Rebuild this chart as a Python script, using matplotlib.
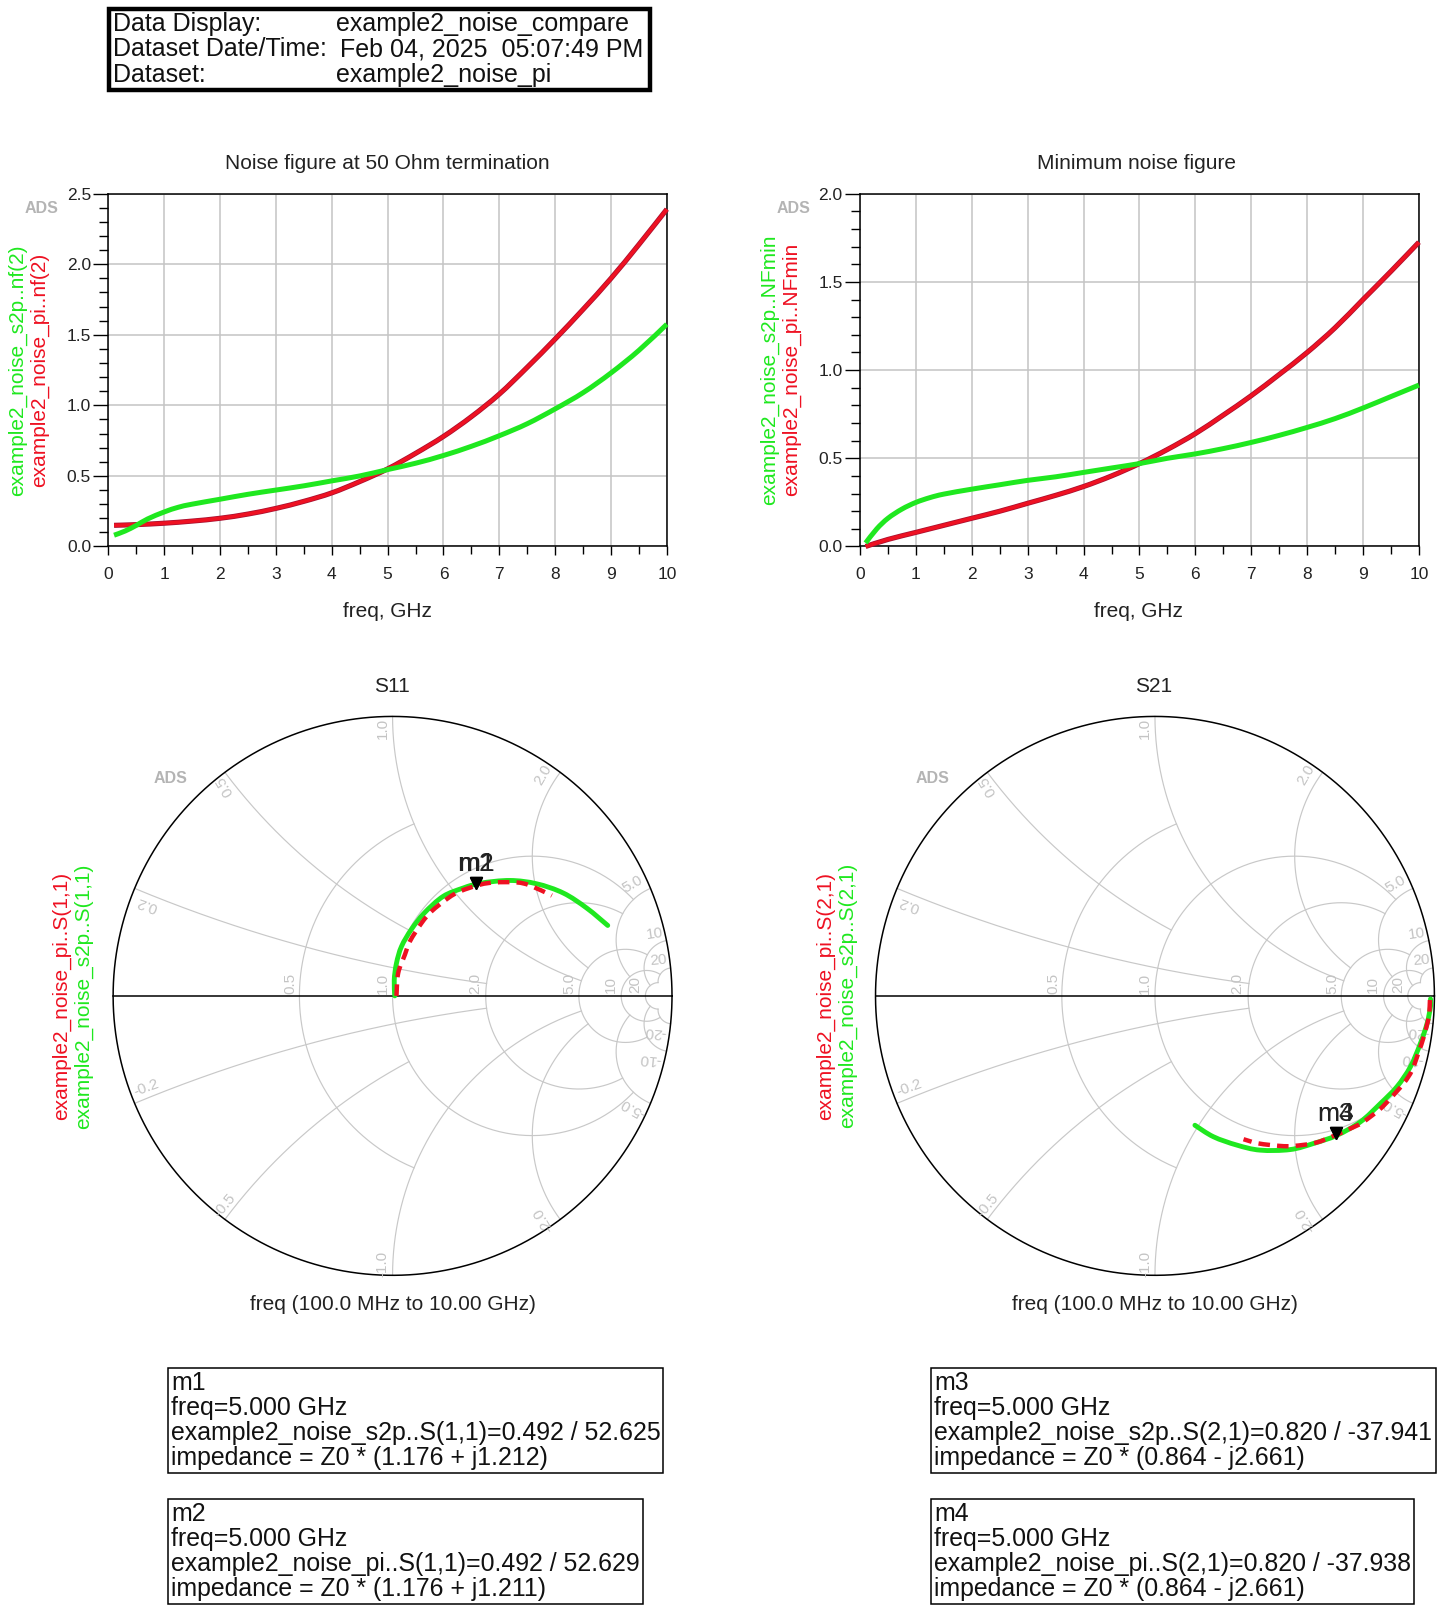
import numpy as np
import matplotlib
matplotlib.use("Agg")
import matplotlib.pyplot as plt
from matplotlib.patches import Rectangle, PathPatch
from matplotlib.path import Path

plt.rcParams['font.family'] = ['Liberation Sans', 'DejaVu Sans']

W, H = 1453, 1619
S = 1453 / 1406.5   # layout below was measured on a narrower view

GREEN = '#1fe81f'
RED = '#ee1122'
GRID = '#c4c4c4'
SMITH_GRID = '#c8c8c8'
LABEL = '#c4c4c4'

# noise figure, dB
nf_freq_s2p = [0.1, 0.3, 0.5, 0.7, 1, 1.25, 1.5, 2, 2.5, 3, 3.5, 4, 4.5, 5, 5.5, 6, 6.5, 7, 7.5, 8, 8.5, 9, 9.5, 10]
nf_s2p = [0.08, 0.11, 0.15, 0.195, 0.245, 0.278, 0.30, 0.335, 0.37, 0.40, 0.43, 0.465, 0.50, 0.545, 0.59, 0.645,
          0.71, 0.785, 0.87, 0.975, 1.09, 1.23, 1.39, 1.575]
nf_freq_pi = [0.1, 0.5, 1, 1.5, 2, 2.5, 3, 3.5, 4, 4.5, 5, 5.5, 6, 6.5, 7, 7.5, 8, 8.5, 9, 9.5, 10]
nf_pi = [0.15, 0.155, 0.165, 0.18, 0.20, 0.23, 0.27, 0.32, 0.38, 0.46, 0.55, 0.66, 0.78, 0.92, 1.08, 1.27, 1.47,
         1.68, 1.90, 2.14, 2.39]

# minimum noise figure, dB
nfmin_freq_s2p = [0.1, 0.3, 0.5, 0.75, 1, 1.25, 1.5, 2, 2.5, 3, 3.5, 4, 4.5, 5, 5.5, 6, 6.5, 7, 7.5, 8, 8.5, 9, 9.5,
                  10]
nfmin_s2p = [0.02, 0.10, 0.16, 0.212, 0.25, 0.277, 0.297, 0.325, 0.35, 0.375, 0.395, 0.42, 0.445, 0.47, 0.50, 0.525,
             0.555, 0.59, 0.63, 0.675, 0.725, 0.785, 0.85, 0.915]
nfmin_freq_pi = [0.1, 0.5, 1, 1.5, 2, 2.5, 3, 3.5, 4, 4.5, 5, 5.5, 6, 6.5, 7, 7.5, 8, 8.5, 9, 9.5, 10]
nfmin_pi = [0.0, 0.04, 0.08, 0.12, 0.16, 0.20, 0.245, 0.29, 0.34, 0.40, 0.47, 0.55, 0.64, 0.745, 0.855, 0.975,
            1.10, 1.24, 1.40, 1.56, 1.725]

# S11 trace, real and imaginary part
s11_re_s2p = [0.008, 0.006, 0.014, 0.032, 0.068, 0.114, 0.181, 0.253, 0.313, 0.420, 0.516, 0.611, 0.695, 0.770]
s11_im_s2p = [0.0, 0.057, 0.117, 0.177, 0.239, 0.297, 0.356, 0.386, 0.403, 0.413, 0.401, 0.368, 0.314, 0.252]
s11_re_pi = [0.014, 0.020, 0.044, 0.062, 0.104, 0.140, 0.199, 0.241, 0.313, 0.367, 0.444, 0.492, 0.570]
s11_im_pi = [0.0, 0.081, 0.147, 0.195, 0.261, 0.303, 0.350, 0.374, 0.398, 0.406, 0.406, 0.395, 0.359]

# S21 trace, real and imaginary part
s21_re_s2p = [0.986, 0.986, 0.974, 0.950, 0.914, 0.866, 0.807, 0.735, 0.651, 0.568, 0.484, 0.376, 0.293, 0.209, 0.143]
s21_im_s2p = [-0.011, -0.038, -0.098, -0.170, -0.254, -0.325, -0.385, -0.451, -0.499, -0.528, -0.550, -0.552,
              -0.534, -0.504, -0.463]
s21_re_pi = [0.984, 0.980, 0.962, 0.944, 0.920, 0.890, 0.837, 0.801, 0.741, 0.699, 0.645, 0.574, 0.496, 0.448,
             0.370, 0.317]
s21_im_pi = [-0.015, -0.074, -0.146, -0.200, -0.266, -0.313, -0.373, -0.409, -0.454, -0.475, -0.499, -0.526,
             -0.537, -0.537, -0.528, -0.513]

# marker readouts, magnitude and angle
m1_s11 = (0.492, 52.625)
m2_s11 = (0.492, 52.629)
m3_s21 = (0.820, -37.941)
m4_s21 = (0.820, -37.938)

header_rows = [("Data Display:", "example2_noise_compare", 325),
               ("Dataset Date/Time:", "Feb 04, 2025  05:07:49 PM", 329),
               ("Dataset:", "example2_noise_pi", 325)]

readout_m1 = ["m1", "freq=5.000 GHz", "example2_noise_s2p..S(1,1)=0.492 / 52.625", "impedance = Z0 * (1.176 + j1.212)"]
readout_m2 = ["m2", "freq=5.000 GHz", "example2_noise_pi..S(1,1)=0.492 / 52.629", "impedance = Z0 * (1.176 + j1.211)"]
readout_m3 = ["m3", "freq=5.000 GHz", "example2_noise_s2p..S(2,1)=0.820 / -37.941", "impedance = Z0 * (0.864 - j2.661)"]
readout_m4 = ["m4", "freq=5.000 GHz", "example2_noise_pi..S(2,1)=0.820 / -37.938", "impedance = Z0 * (0.864 - j2.661)"]

# constant r circle: how far it runs in x. constant x arc: how far it runs in r
r_circles = [(0.5, 1), (1, 5), (2, 5), (5, 10), (10, 20), (20, 20)]
x_arcs = [(0.2, 2), (0.5, 1), (1, 5), (2, 5), (5, 10), (10, 20), (20, 20)]

# smith labels: text, re, im, rotation
smith_labels = [("0.5", -0.365, 0.045, 90), ("1.0", -0.035, 0.045, 90), ("2.0", 0.296, 0.045, 90),
                ("5.0", 0.634, 0.045, 90), ("10", 0.78, 0.04, 90), ("20", 0.87, 0.04, 90),
                ("1.0", -0.035, 0.957, 90), ("2.0", 0.54, 0.79, 60), ("5.0", 0.86, 0.40, 30),
                ("10", 0.937, 0.222, 8), ("20", 0.952, 0.126, 5),
                ("0.5", -0.60, 0.75, 120), ("0.2", -0.88, 0.33, 160),
                ("-0.2", -0.88, -0.33, 20), ("-0.5", -0.60, -0.75, 50), ("-1.0", -0.035, -0.96, 90),
                ("-2.0", 0.54, -0.80, 120), ("-5.0", 0.86, -0.40, 150),
                ("-10", 0.92, -0.225, 175), ("-20", 0.94, -0.13, 175)]


def fig_xy(x, y):
    return x * S / W, 1 - y * S / H


def put_text(fig, x, y, s, **kw):
    kw.setdefault('ha', 'center')
    kw.setdefault('va', 'center')
    fx, fy = fig_xy(x, y)
    fig.text(fx, fy, s, **kw)


def axes_box(fig, left, top, right, bottom):
    fx0, fy1 = fig_xy(left, top)
    fx1, fy0 = fig_xy(right, bottom)
    return fig.add_axes([fx0, fy0, fx1 - fx0, fy1 - fy0])


def frame_box(fig, left, top, right, bottom, lw):
    fx0, fy1 = fig_xy(left, top)
    fx1, fy0 = fig_xy(right, bottom)
    fig.add_artist(Rectangle((fx0, fy0), fx1 - fx0, fy1 - fy0, transform=fig.transFigure,
                             fill=False, edgecolor='black', linewidth=lw))


def smooth_curve(ax, xs, ys, **kw):
    # bezier through the read points, the curves in the reference have no corners
    p = np.column_stack([xs, ys]).astype(float)
    prev = np.vstack([p[0], p[:-2]])
    nxt = np.vstack([p[2:], p[-1]])
    verts = [p[0]]
    codes = [Path.MOVETO]
    for a, b, before, after in zip(p[:-1], p[1:], prev, nxt):
        verts += [a + (b - before) / 6, b - (after - a) / 6, b]
        codes += [Path.CURVE4] * 3
    patch = PathPatch(Path(verts, codes), fill=False, clip_on=False, **kw)
    ax.add_patch(patch)
    return patch


def noise_plot(fig, box, ymax, f1, y1, f2, y2):
    ax = axes_box(fig, *box)
    ax.set_xlim(0, 10)
    ax.set_ylim(0, ymax)
    ax.set_xticks(np.arange(0, 11))
    ax.set_xticks(np.arange(0.5, 10, 1), minor=True)
    ax.set_yticks(np.arange(0, ymax + 0.01, 0.5))
    ax.set_yticks(np.arange(0, ymax + 0.01, 0.1), minor=True)
    ax.set_yticklabels(["%.1f" % v for v in np.arange(0, ymax + 0.01, 0.5)])
    ax.grid(True, which='major', color=GRID, linewidth=1.1)
    ax.set_axisbelow(True)
    ax.tick_params(axis='y', which='major', length=11, width=1, labelsize=12.5, pad=1.5, labelcolor='#222222')
    ax.tick_params(axis='y', which='minor', length=6.5, width=1)
    ax.tick_params(axis='x', which='major', length=6.5, width=1, labelsize=12.5, pad=8, labelcolor='#222222')
    ax.tick_params(axis='x', which='minor', length=5.5, width=1)
    for sp in ax.spines.values():
        sp.set_linewidth(1.1)
    smooth_curve(ax, f2, y2, edgecolor='#a81030', linewidth=3.7, capstyle='butt', zorder=3)
    smooth_curve(ax, f2, y2, edgecolor=RED, linewidth=2.6, capstyle='butt', zorder=3)
    smooth_curve(ax, f1, y1, edgecolor=GREEN, linewidth=3.6, capstyle='butt', zorder=4)
    return ax


def smith_plot(fig, cx, cy, radius, green, red, markers, tags):
    ax = axes_box(fig, cx - radius * 1.03, cy - radius * 1.03, cx + radius * 1.03, cy + radius * 1.03)
    ax.set_xlim(-1.03, 1.03)
    ax.set_ylim(-1.03, 1.03)
    ax.axis('off')
    for r, xlim in r_circles:
        x = np.sinh(np.linspace(-6, 6, 500)) / np.sinh(6) * xlim
        g = (r + 1j * x - 1) / (r + 1j * x + 1)
        ax.plot(g.real, g.imag, color=SMITH_GRID, linewidth=0.85, zorder=1)
    for xv, rlim in x_arcs:
        r = np.concatenate([[0], np.geomspace(0.001, rlim, 400)])
        for sign in (1, -1):
            z = r + 1j * sign * xv
            g = (z - 1) / (z + 1)
            ax.plot(g.real, g.imag, color=SMITH_GRID, linewidth=0.85, zorder=1)
    t = np.linspace(0, 2 * np.pi, 720)
    ax.plot(np.cos(t), np.sin(t), color='black', linewidth=1.1, zorder=2)
    ax.plot([-1, 1], [0, 0], color='black', linewidth=1.1, zorder=2)
    for s, re, im, rot in smith_labels:
        ax.text(re, im, s, fontsize=11, color=LABEL, rotation=rot, ha='center', va='center', zorder=2)
    smooth_curve(ax, green[0], green[1], edgecolor=GREEN, linewidth=3.5, capstyle='round', zorder=3)
    smooth_curve(ax, red[0], red[1], edgecolor=RED, linewidth=3.2, linestyle=(0, (2.6, 1.6)), zorder=4)
    for (mag, ang), tag in zip(markers, tags):
        mx, my = mag * np.cos(np.radians(ang)), mag * np.sin(np.radians(ang))
        ax.plot([mx], [my + 0.012], marker='v', markersize=9, color='black', linestyle='none', zorder=5,
                clip_on=False)
        ax.text(mx, my + 0.082, tag, fontsize=19, color='#222222', ha='center', va='center', zorder=6)
    return ax


def readout(fig, left, top, right, bottom, lines):
    frame_box(fig, left, top, right, bottom, 1.1)
    for k, line in enumerate(lines):
        put_text(fig, left + 3, top + 14.6 + k * 24.2, line, ha='left', fontsize=17.9, color='#111111')


fig = plt.figure(figsize=(W / 100, H / 100), dpi=100, facecolor='white')

# header block
frame_box(fig, 105.5, 9, 629, 87, 3.2)
for k, (name, value, xval) in enumerate(header_rows):
    y = 23 + k * 24.6
    put_text(fig, 109, y, name, ha='left', fontsize=18, color='#111111')
    put_text(fig, xval, y, value, ha='left', fontsize=18, color='#111111')

# rectangular plots
noise_plot(fig, (105, 187.5, 645.5, 529), 2.5, nf_freq_s2p, nf_s2p, nf_freq_pi, nf_pi)
noise_plot(fig, (832.5, 187.5, 1373.5, 529), 2.0, nfmin_freq_s2p, nfmin_s2p, nfmin_freq_pi, nfmin_pi)

put_text(fig, 375, 158.5, "Noise figure at 50 Ohm termination", fontsize=15, color='#222222')
put_text(fig, 1100, 158.5, "Minimum noise figure", fontsize=15, color='#222222')
put_text(fig, 375, 591.5, "freq, GHz", fontsize=15, color='#222222')
put_text(fig, 1102, 591.5, "freq, GHz", fontsize=15, color='#222222')

put_text(fig, 17, 358, "example2_noise_s2p..nf(2)", rotation=90, fontsize=15, color=GREEN)
put_text(fig, 38, 358, "example2_noise_pi..nf(2)", rotation=90, fontsize=15, color=RED)
put_text(fig, 745, 358, "example2_noise_s2p..NFmin", rotation=90, fontsize=15, color=GREEN)
put_text(fig, 766, 358, "example2_noise_pi..NFmin", rotation=90, fontsize=15, color=RED)

for ax_x, ax_y in [(40, 202), (768, 202), (165, 754), (903, 754)]:
    put_text(fig, ax_x, ax_y, "ADS", fontsize=11.5, color='#b4b4b4', fontweight='bold')

# smith charts
smith_plot(fig, 380, 964, 270.5, (s11_re_s2p, s11_im_s2p), (s11_re_pi, s11_im_pi), [m1_s11, m2_s11], ["m1", "m2"])
smith_plot(fig, 1118, 964, 270.5, (s21_re_s2p, s21_im_s2p), (s21_re_pi, s21_im_pi), [m3_s21, m4_s21], ["m3", "m4"])

put_text(fig, 379, 665, "S11", fontsize=15, color='#222222')
put_text(fig, 1117, 665, "S21", fontsize=15, color='#222222')
put_text(fig, 380, 1262.5, "freq (100.0 MHz to 10.00 GHz)", fontsize=15, color='#222222')
put_text(fig, 1118, 1262.5, "freq (100.0 MHz to 10.00 GHz)", fontsize=15, color='#222222')

put_text(fig, 60, 964, "example2_noise_pi..S(1,1)", rotation=90, fontsize=15, color=RED)
put_text(fig, 81, 964, "example2_noise_s2p..S(1,1)", rotation=90, fontsize=15, color=GREEN)
put_text(fig, 799, 964, "example2_noise_pi..S(2,1)", rotation=90, fontsize=15, color=RED)
put_text(fig, 820, 964, "example2_noise_s2p..S(2,1)", rotation=90, fontsize=15, color=GREEN)

# marker readouts
readout(fig, 163, 1324, 642, 1426, readout_m1)
readout(fig, 163, 1451, 622, 1553, readout_m2)
readout(fig, 901, 1324, 1390, 1426, readout_m3)
readout(fig, 901, 1451, 1369, 1553, readout_m4)

fig.savefig('out.png', dpi=100, facecolor='white')
